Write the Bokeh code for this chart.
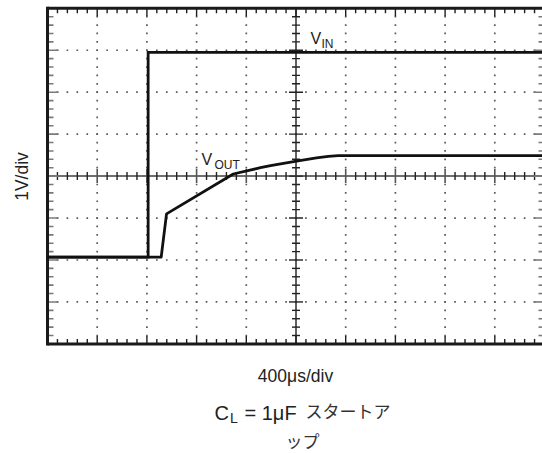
import numpy as np
from bokeh.plotting import figure
from bokeh.models import Range1d, Label
from bokeh.embed import file_html
from bokeh.resources import INLINE

# Scope capture: time in µs (400 µs/div), voltage in V (1 V/div), 0 V at screen centre
vin_t = [0, 810, 810, 4000]
vin_v = [-1.93, -1.93, 2.95, 2.95]

vout_t = [0, 915, 958, 1495, 1714, 1795, 2004, 2165, 2260, 2340, 4000]
vout_v = [-1.93, -1.93, -0.90, 0.05, 0.20, 0.25, 0.355, 0.435, 0.47, 0.49, 0.49]

# Graticule: 10 x 8 divisions, 5 minor steps per division
T_DIV, V_DIV = 400, 1.0
N_TDIV, N_VDIV = 10, 8
T_MAX = T_DIV * N_TDIV
V_HALF = V_DIV * N_VDIV / 2

# screen scale of the graticule
PX_PER_TDIV = 49.7
PX_PER_V = 41.95
T0_PX, V0_PX = 47.0, 175.6
US_PER_PX = T_DIV / PX_PER_TDIV
V_PER_PX = 1.0 / PX_PER_V

W, H = 542, 453


def px_to_t(x):
    return (x - T0_PX) * US_PER_PX


def py_to_v(y):
    return (V0_PX - y) * V_PER_PX


# the plot frame spans the whole canvas so the captions can sit in data space
p = figure(width=W, height=H,
           x_range=Range1d(px_to_t(0), px_to_t(W)),
           y_range=Range1d(py_to_v(H), py_to_v(0)),
           x_axis_type=None, y_axis_type=None,
           toolbar_location=None, output_backend="svg",
           min_border=0)
p.outline_line_color = None
p.background_fill_color = "white"
p.border_fill_color = "white"

t_minor = np.arange(0, T_MAX + 1, T_DIV / 5)
v_minor = np.round(np.arange(-V_HALF, V_HALF + 1e-9, V_DIV / 5), 3)
t_major = np.arange(0, T_MAX + 1, T_DIV)
v_major = np.arange(-V_HALF, V_HALF + 1e-9, V_DIV)

# dotted division lines
dot_x, dot_y = [], []
for v in v_major[1:-1]:
    if abs(v) < 1e-9:
        continue
    dot_x += list(t_minor[1:-1])
    dot_y += [v] * (len(t_minor) - 2)
for t in t_major[1:-1]:
    if abs(t - T_MAX / 2) < 1e-9:
        continue
    dot_x += [t] * (len(v_minor) - 2)
    dot_y += list(v_minor[1:-1])
p.scatter(dot_x, dot_y, marker="square", size=1.7, fill_color="#5a5a5a",
          line_color=None)


def is_major_t(t):
    return abs(t / T_DIV - round(t / T_DIV)) < 1e-6


def is_major_v(v):
    return abs(v / V_DIV - round(v / V_DIV)) < 1e-6


# centre cross-hair lines
p.segment(x0=[0], y0=[0], x1=[T_MAX], y1=[0], line_color="#6e6e6e", line_width=2)
p.segment(x0=[T_MAX / 2], y0=[-V_HALF], x1=[T_MAX / 2], y1=[V_HALF],
          line_color="#1e1e1e", line_width=1.4)

# cross-hair ticks
ch_minor_t = [t for t in t_minor if not is_major_t(t)]
ch_major_t = [t for t in t_major if 0 < t < T_MAX]
p.segment(x0=ch_minor_t, y0=[-4 * V_PER_PX] * len(ch_minor_t),
          x1=ch_minor_t, y1=[4 * V_PER_PX] * len(ch_minor_t),
          line_color="#222222", line_width=1.4)
p.segment(x0=ch_major_t, y0=[-7 * V_PER_PX] * len(ch_major_t),
          x1=ch_major_t, y1=[7 * V_PER_PX] * len(ch_major_t),
          line_color="#555555", line_width=1.6)
ch_minor_v = [v for v in v_minor if not is_major_v(v)]
ch_major_v = [v for v in v_major if -V_HALF < v < V_HALF]
p.segment(x0=[T_MAX / 2 - 4 * US_PER_PX] * len(ch_minor_v), y0=ch_minor_v,
          x1=[T_MAX / 2 + 4 * US_PER_PX] * len(ch_minor_v), y1=ch_minor_v,
          line_color="#222222", line_width=1.4)
p.segment(x0=[T_MAX / 2 - 7 * US_PER_PX] * len(ch_major_v), y0=ch_major_v,
          x1=[T_MAX / 2 + 7 * US_PER_PX] * len(ch_major_v), y1=ch_major_v,
          line_color="#222222", line_width=1.4)

# ticks on the screen border
in_t = [t for t in t_minor if 0 < t < T_MAX]
len_t = [(8 if is_major_t(t) else 5) * V_PER_PX for t in in_t]
p.segment(x0=in_t, y0=[V_HALF] * len(in_t), x1=in_t,
          y1=[V_HALF - l for l in len_t], line_color="#1e1e1e", line_width=1.4)
p.segment(x0=in_t, y0=[-V_HALF] * len(in_t), x1=in_t,
          y1=[-V_HALF + l for l in len_t], line_color="#1e1e1e", line_width=1.4)
in_v = [v for v in v_minor if -V_HALF < v < V_HALF]
len_v = [(11 if is_major_v(v) else 6) * US_PER_PX for v in in_v]
p.segment(x0=[0] * len(in_v), y0=in_v, x1=len_v, y1=in_v,
          line_color="#7a7a7a", line_width=1.6)
p.segment(x0=[T_MAX] * len(in_v), y0=in_v, x1=[T_MAX - l for l in len_v], y1=in_v,
          line_color="#7a7a7a", line_width=1.6)

# screen border (left, top, bottom)
p.segment(x0=[0, 0, 0], y0=[-V_HALF - 1.5 * V_PER_PX, V_HALF, -V_HALF],
          x1=[0, T_MAX, T_MAX], y1=[V_HALF + 1.5 * V_PER_PX, V_HALF, -V_HALF],
          line_color="#1a1a1a", line_width=3)

# traces
p.line(vin_t, vin_v, line_color="#111111", line_width=2.8, line_join="miter")
p.line(vout_t, vout_v, line_color="#111111", line_width=2.8, line_join="round")


def label(text, x_px, y_px, size, font="Liberation Sans", color="#222222",
          align="left", baseline="alphabetic", angle=0.0):
    p.add_layout(Label(x=px_to_t(x_px), y=py_to_v(y_px), text=text,
                       text_font=font, text_font_size=f"{size}px",
                       text_color=color, text_align=align,
                       text_baseline=baseline, angle=angle))


label("V", 310, 37.5, 16)
label("IN", 321, 43, 12)
label("V", 201, 158.5, 16)
label("OUT", 214, 164, 12)

label("1V/div", 21, 176, 17.5, align="center", baseline="middle", angle=np.pi / 2)
label("400μs/div", 295, 375, 17.5, align="center")

label("C", 214, 412, 20)
label("L", 229.5, 417, 14)
label("= 1μF", 244, 412, 20)
label("スタートア", 305, 410, 17, font="Noto Sans CJK JP", color="#333333")
label("ップ", 285, 440, 17, font="Noto Sans CJK JP", color="#333333")

open("out.html", "w").write(file_html(p, INLINE))
